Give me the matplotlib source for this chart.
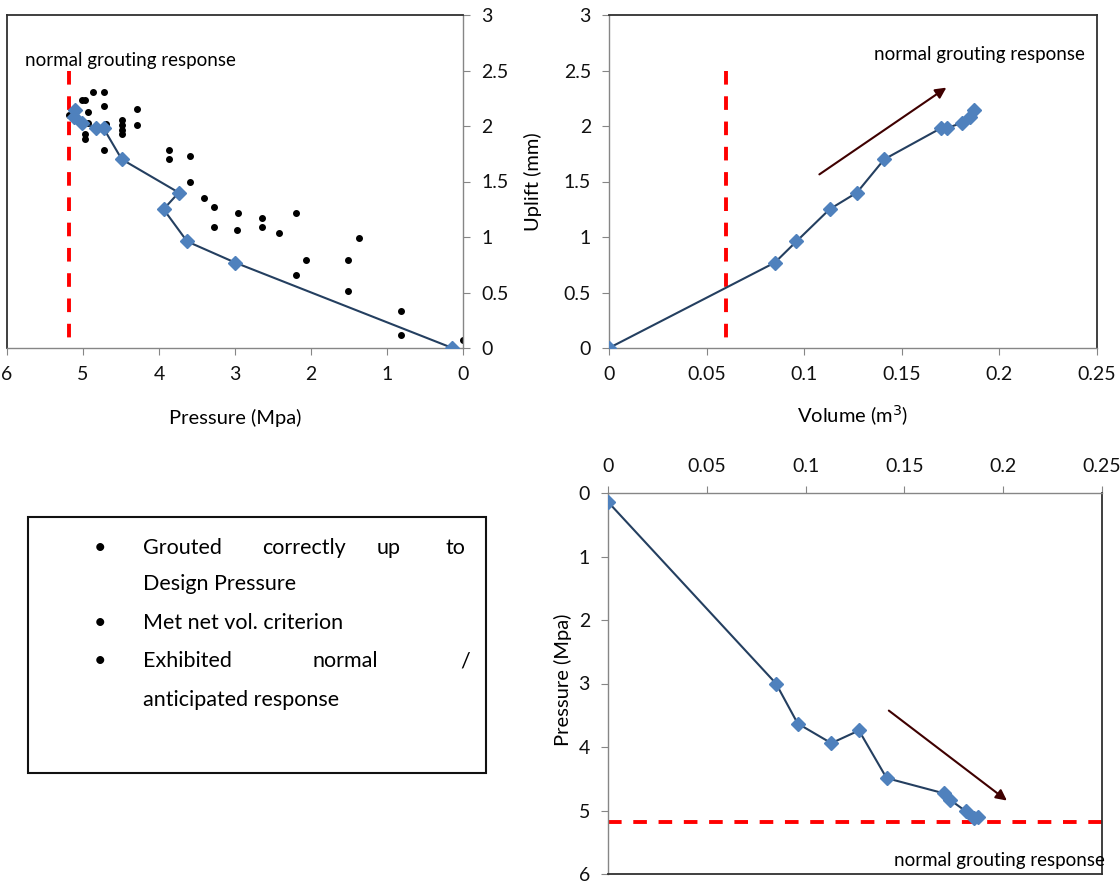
import matplotlib.pyplot as plt
from matplotlib.patches import Rectangle
from matplotlib.ticker import FuncFormatter

plt.rcParams['font.family'] = ['Lato', 'DejaVu Sans']

# grouting record (one row per stage)
volume = [0, 0.085, 0.096, 0.113, 0.127, 0.141, 0.170, 0.173, 0.181, 0.185, 0.187]
pressure = [0.14, 3.0, 3.63, 3.94, 3.74, 4.49, 4.73, 4.83, 5.01, 5.12, 5.10]
uplift = [0, 0.77, 0.96, 1.25, 1.40, 1.70, 1.98, 1.98, 2.03, 2.08, 2.14]

# other holes (pressure vs uplift)
other_p = [4.87, 4.72, 5.01, 4.98, 4.72, 4.29, 5.18, 5.12, 4.94, 4.94, 4.70,
           4.49, 4.49, 4.49, 4.49, 4.29, 4.71, 4.97, 4.97, 4.72, 3.87, 3.87,
           3.59, 3.59, 3.41, 3.28, 2.96, 3.28, 2.97, 2.65, 2.65, 2.42, 2.20,
           2.20, 2.06, 1.51, 1.51, 1.37, 0.81, 0.81, 0.0]
other_u = [2.31, 2.31, 2.23, 2.23, 2.18, 2.15, 2.10, 2.10, 2.13, 2.03, 2.02,
           2.05, 2.01, 1.96, 1.93, 2.01, 1.96, 1.93, 1.88, 1.78, 1.78, 1.70,
           1.73, 1.50, 1.35, 1.27, 1.22, 1.09, 1.06, 1.17, 1.09, 1.04, 1.22,
           0.66, 0.79, 0.79, 0.51, 0.99, 0.33, 0.12, 0.07]

design_p = 5.18
vol_crit = 0.06
label = 'normal grouting response'

W, H = 1120, 882
fig = plt.figure(figsize=(W / 100, H / 100), dpi=100)


def box(l, t, r, b):
    return [l / W, 1 - b / H, (r - l) / W, (b - t) / H]


def style(ax, axis_sides, border_sides):
    for s in axis_sides:
        ax.spines[s].set_color('#868686')
        ax.spines[s].set_linewidth(1)
    for s in border_sides:
        ax.spines[s].set_color('#303030')
        ax.spines[s].set_linewidth(1.3)
    ax.tick_params(length=5, color='#868686', labelsize=14, pad=8,
                   labelcolor='#111111')


fmt = FuncFormatter(lambda v, p: '{:g}'.format(round(v, 3)))
line_kw = dict(color='#243F60', lw=1.5, marker='D', ms=7.5,
               mfc='#4F81BD', mec='#4F81BD', zorder=3)
red_kw = dict(color='#FF0000', lw=2.8, dashes=(3.5, 3))
arrow_kw = dict(arrowstyle='-|>', color='#3F0000', lw=1.5, mutation_scale=16)

# top left: pressure vs uplift
ax1 = fig.add_axes(box(7, 15, 463, 348))
ax1.plot(other_p, other_u, 'o', color='black', ms=4, zorder=2)
ax1.plot(pressure, uplift, **line_kw)
ax1.plot([design_p, design_p], [2.5, 0], **red_kw)
ax1.set_xlim(6, 0)
ax1.set_ylim(0, 3)
ax1.set_xticks([6, 5, 4, 3, 2, 1, 0])
ax1.set_yticks([0, 0.5, 1, 1.5, 2, 2.5, 3])
ax1.yaxis.tick_right()
ax1.xaxis.set_major_formatter(fmt)
ax1.yaxis.set_major_formatter(fmt)
style(ax1, ['right', 'bottom'], ['top', 'left'])
ax1.set_xlabel('Pressure (Mpa)', fontsize=14.5, va='center')
ax1.xaxis.set_label_coords(0.5, -0.21)
ax1.text(5.76, 2.59, label, fontsize=13.5, ha='left', va='center')

# top right: volume vs uplift
ax2 = fig.add_axes(box(609, 15, 1097, 348))
ax2.plot(volume, uplift, **line_kw)
ax2.plot([vol_crit, vol_crit], [2.5, 0], **red_kw)
ax2.annotate('', xy=(0.174, 2.36), xytext=(0.1066, 1.55), arrowprops=arrow_kw)
ax2.set_xlim(0, 0.25)
ax2.set_ylim(0, 3)
ax2.set_xticks([0, 0.05, 0.1, 0.15, 0.2, 0.25])
ax2.set_yticks([0, 0.5, 1, 1.5, 2, 2.5, 3])
ax2.xaxis.set_major_formatter(fmt)
ax2.yaxis.set_major_formatter(fmt)
style(ax2, ['left', 'bottom'], ['top', 'right'])
ax2.set_xlabel('Volume (m$^3$)', fontsize=14.5, va='center')
ax2.xaxis.set_label_coords(0.5, -0.204)
ax2.set_ylabel('Uplift (mm)', fontsize=14.5, va='center')
ax2.yaxis.set_label_coords(-0.156, 0.5)
ax2.text(0.2439, 2.64, label, fontsize=13.5, ha='right', va='center')

# bottom right: volume vs pressure
ax3 = fig.add_axes(box(608, 493, 1102, 874))
ax3.plot(volume, pressure, **line_kw)
ax3.plot([0, 0.25], [design_p, design_p], **red_kw)
ax3.annotate('', xy=(0.203, 4.87), xytext=(0.141, 3.40), arrowprops=arrow_kw)
ax3.set_xlim(0, 0.25)
ax3.set_ylim(6, 0)
ax3.set_xticks([0, 0.05, 0.1, 0.15, 0.2, 0.25])
ax3.set_yticks([0, 1, 2, 3, 4, 5, 6])
ax3.xaxis.tick_top()
ax3.xaxis.set_major_formatter(fmt)
ax3.yaxis.set_major_formatter(fmt)
style(ax3, ['left', 'top'], ['bottom', 'right'])
ax3.set_ylabel('Pressure (Mpa)', fontsize=14.5, va='center')
ax3.yaxis.set_label_coords(-0.091, 0.509)
ax3.text(0.2515, 5.78, label, fontsize=13.5, ha='right', va='center')

# bottom left: notes box
fig.add_artist(Rectangle((28 / W, 1 - 773 / H), (486 - 28) / W, (773 - 517) / H,
                         transform=fig.transFigure, fill=False,
                         edgecolor='#111111', lw=1.5))


def note(x, y, s, ha='left'):
    fig.text(x / W, 1 - y / H, s, fontsize=15.5, ha=ha, va='center')


for y in [548, 623, 661]:
    note(100, y, '\u2022', ha='center')
note(143, 548, 'Grouted')
note(262, 548, 'correctly')
note(377, 548, 'up')
note(465, 548, 'to', ha='right')
note(143, 584, 'Design Pressure')
note(143, 623, 'Met net vol. criterion')
note(143, 661, 'Exhibited')
note(313, 661, 'normal')
note(470, 661, '/', ha='right')
note(143, 700, 'anticipated response')

fig.savefig('out.png', dpi=100)
